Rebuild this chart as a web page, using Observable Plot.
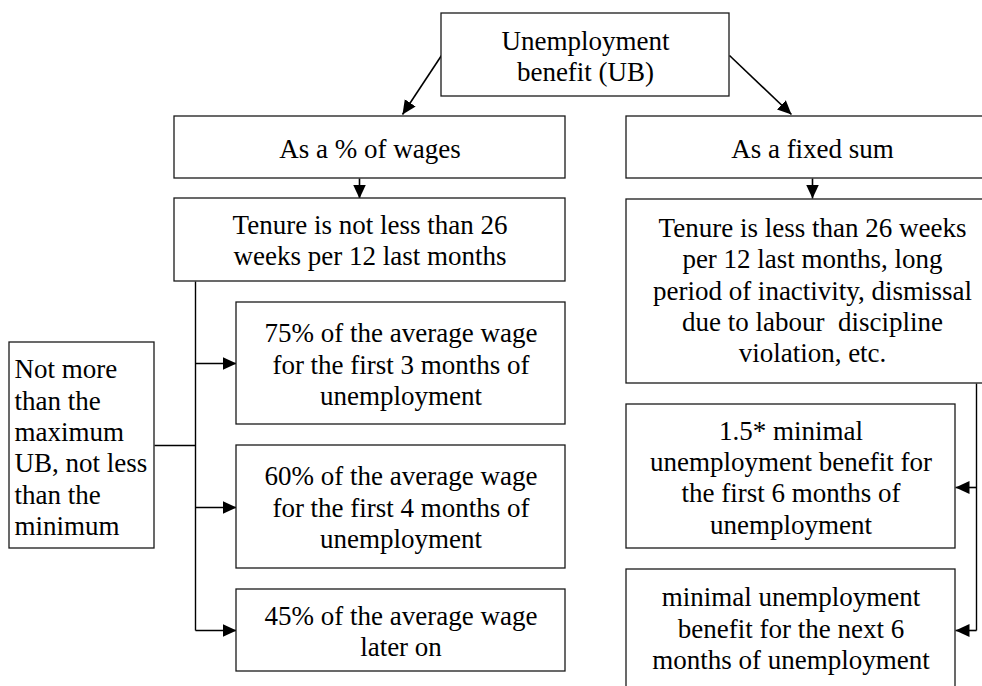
<!DOCTYPE html>
<html>
<head>
<meta charset="utf-8">
<script src="https://cdn.jsdelivr.net/npm/d3@7"></script>
<script src="https://cdn.jsdelivr.net/npm/@observablehq/plot@0.6"></script>
<style>
  html, body { margin: 0; padding: 0; background: #fff; overflow: hidden; }
  svg text { font-family: "Liberation Serif", "DejaVu Serif", serif !important; }
</style>
</head>
<body>
<div id="chart"></div>
<script>
// ---- Diagram content ----
const nodeIds = ["ub", "pct", "fixed", "tenureLong", "tenureShort", "p75", "p60", "p45", "min15", "minNext", "limits"];
const nodeLabels = [
  "Unemployment\nbenefit (UB)",
  "As a % of wages",
  "As a fixed sum",
  "Tenure is not less than 26\nweeks per 12 last months",
  "Tenure is less than 26 weeks\nper 12 last months, long\nperiod of inactivity, dismissal\ndue to labour  discipline\nviolation, etc.",
  "75% of the average wage\nfor the first 3 months of\nunemployment",
  "60% of the average wage\nfor the first 4 months of\nunemployment",
  "45% of the average wage\nlater on",
  "1.5* minimal\nunemployment benefit for\nthe first 6 months of\nunemployment",
  "minimal unemployment\nbenefit for the next 6\nmonths of unemployment",
  "Not more\nthan the\nmaximum\nUB, not less\nthan the\nminimum"
];
// box extents in diagram units [left, right, top, bottom]
const nodeLeft   = [441, 174, 626, 174, 626, 236, 236, 236, 626, 626,   9];
const nodeRight  = [729, 565, 998, 565, 998, 565, 565, 565, 955, 955, 154];
const nodeTop    = [ 13, 116, 116, 198, 199, 302, 445, 589, 404, 569, 342];
const nodeBottom = [ 96, 178, 178, 281, 383, 424, 568, 671, 548, 700, 548];
const nodeAlign  = ["middle","middle","middle","middle","middle","middle","middle","middle","middle","middle","start"];
// text block centre for each box
const nodeTextY  = [ 55, 147, 147, 239, 289, 363, 506, 630, 476, 627, 446];

// connectors with arrowheads: [fromX, fromY, toX, toY]
const arrowFromX = [441, 729, 359, 812, 195, 195, 195, 976, 976];
const arrowFromY = [ 55,  55, 178, 178, 363, 507, 630, 487, 630];
const arrowToX   = [402, 791, 359, 812, 236, 236, 236, 955, 955];
const arrowToY   = [114, 114, 198, 198, 363, 507, 630, 487, 630];

// plain connector lines
const lineFromX = [195, 154, 976];
const lineFromY = [281, 445, 383];
const lineToX   = [195, 195, 976];
const lineToY   = [630, 445, 630];

const nodes = nodeIds.map((id, i) => ({
  id, label: nodeLabels[i], x1: nodeLeft[i], x2: nodeRight[i], y1: nodeTop[i], y2: nodeBottom[i],
  align: nodeAlign[i], ty: nodeTextY[i]
}));
const arrows = arrowFromX.map((_, i) => ({x1: arrowFromX[i], y1: arrowFromY[i], x2: arrowToX[i], y2: arrowToY[i]}));
const lines = lineFromX.map((_, i) => ({x1: lineFromX[i], y1: lineFromY[i], x2: lineToX[i], y2: lineToY[i]}));

const SVGNS = "http://www.w3.org/2000/svg";
function filledArrow(color, context) {
  const doc = (context && context.document) || document;
  const m = doc.createElementNS(SVGNS, "marker");
  m.setAttribute("viewBox", "-14 -7 14 14");
  m.setAttribute("markerWidth", "14");
  m.setAttribute("markerHeight", "14");
  m.setAttribute("markerUnits", "userSpaceOnUse");
  m.setAttribute("refX", "0");
  m.setAttribute("refY", "0");
  m.setAttribute("orient", "auto");
  const p = doc.createElementNS(SVGNS, "path");
  p.setAttribute("d", "M-14,-6.5L0,0L-14,6.5Z");
  p.setAttribute("fill", "#000");
  p.setAttribute("stroke", "none");
  m.appendChild(p);
  return m;
}

const font = "Liberation Serif, DejaVu Serif, serif";
const centered = nodes.filter(d => d.align === "middle");
const leftAligned = nodes.filter(d => d.align === "start");

const chart = Plot.plot({
  width: 982,
  height: 686,
  margin: 0,
  style: {fontFamily: font, background: "#fff"},
  x: {domain: [0, 982], axis: null},
  y: {domain: [0, 686], reverse: true, axis: null},
  marks: [
    Plot.link(lines, {x1: "x1", y1: "y1", x2: "x2", y2: "y2", stroke: "#000", strokeWidth: 1.4}),
    Plot.link(arrows, {x1: "x1", y1: "y1", x2: "x2", y2: "y2", stroke: "#000", strokeWidth: 1.6, markerEnd: filledArrow}),
    Plot.rect(nodes, {x1: "x1", x2: "x2", y1: "y1", y2: "y2", fill: "#fff", stroke: "#1a1a1a", strokeWidth: 1.3, clip: true}),
    Plot.text(centered, {
      x: d => (d.x1 + d.x2) / 2, y: "ty", text: "label",
      fontFamily: font, fontSize: 27, lineHeight: 1.16, lineAnchor: "middle",
      textAnchor: "middle", fill: "#000", clip: true
    }),
    Plot.text(leftAligned, {
      x: d => d.x1 + 5, y: "ty", text: "label",
      fontFamily: font, fontSize: 27, lineHeight: 1.16, lineAnchor: "middle",
      textAnchor: "start", fill: "#000"
    })
  ]
});
document.getElementById("chart").appendChild(chart);
</script>
</body>
</html>
